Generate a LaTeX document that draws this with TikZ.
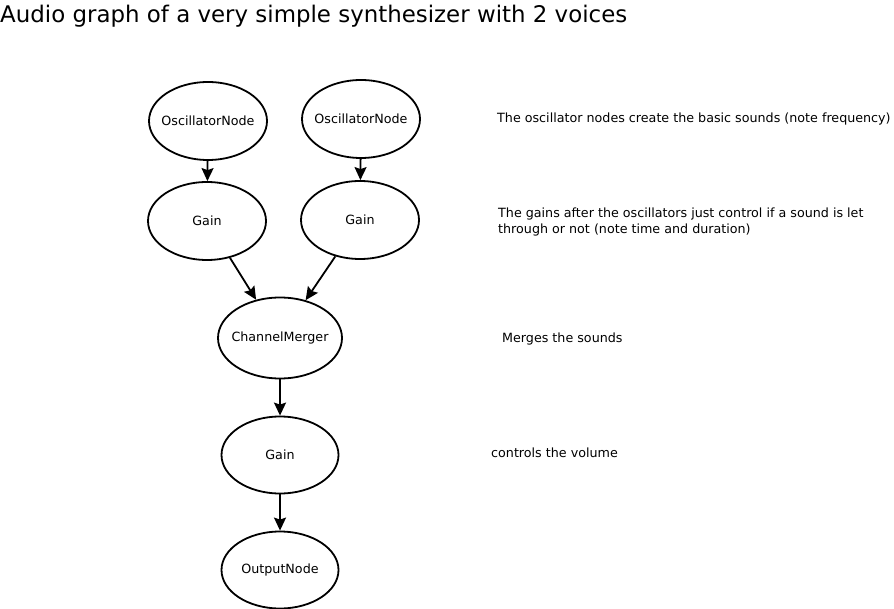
\documentclass[tikz,border=0pt]{standalone}
\usepackage{fontspec}
\setmainfont{DejaVu Sans}
\usetikzlibrary{shapes.geometric,arrows.meta}
\tikzset{
    audionode/.style = {draw, ellipse, line width = 1.8pt, minimum width = 118pt, minimum height = 78pt, inner xsep = -20pt, inner ysep = 0pt, font = \fontsize{12.7}{15}\selectfont},
    remark/.style = {anchor = west, align = left, inner sep = 0pt, font = \fontsize{12.7}{16}\selectfont},
    flow/.style = {-{Stealth[length = 13pt, width = 12pt, inset = 2pt]}, line width = 1.8pt}
}
\begin{document}
\begin{tikzpicture}[x = 1pt, y = -1pt]
    \useasboundingbox (0,0) rectangle (894,609);
    \node (title) at (0,16) [anchor = west, inner sep = 0pt, font = \fontsize{22.9}{26}\selectfont] {Audio graph of a very simple synthesizer with 2 voices};
    \node (osc1) at (208,121) [audionode] {OscillatorNode};
    \node (osc2) at (361,119) [audionode] {OscillatorNode};
    \node (gain1) at (207,221) [audionode] {Gain};
    \node (gain2) at (360,220) [audionode] {Gain};
    \node (merger) at (280,338) [audionode, minimum width = 124pt, minimum height = 81pt] {ChannelMerger};
    \node (volume) at (280,455) [audionode, minimum width = 117pt, minimum height = 77pt] {Gain};
    \node (output) at (280,570) [audionode, minimum width = 117pt, minimum height = 77pt] {OutputNode};
    \draw[flow] (osc1) -- (gain1);
    \draw[flow] (osc2) -- (gain2);
    \draw[flow] (gain1) -- (merger);
    \draw[flow] (gain2) -- (merger);
    \draw[flow] (merger) -- (volume);
    \draw[flow] (volume) -- (output);
    % remarks on the right
    \node (oscnote) at (497,119) [remark] {The oscillator nodes create the basic sounds (note frequency)};
    \node (gainnote) at (498,222) [remark] {The gains after the oscillators just control if a sound is let\\through or not (note time and duration)};
    \node (mergenote) at (502,339) [remark] {Merges the sounds};
    \node (volumenote) at (491,453) [remark] {controls the volume};
\end{tikzpicture}
\end{document}
